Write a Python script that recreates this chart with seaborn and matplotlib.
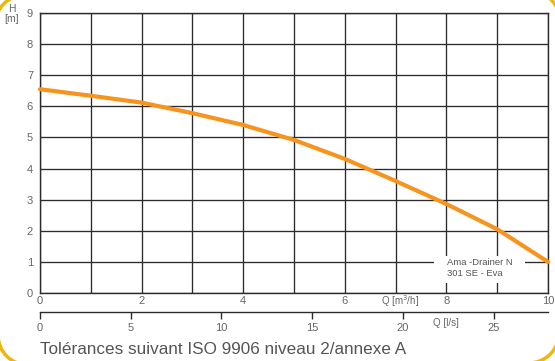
import matplotlib
matplotlib.use("Agg")
import matplotlib.pyplot as plt
from matplotlib.patches import Arc, Rectangle
import pandas as pd
import seaborn as sns

# Pump curve
flow_m3h = [0, 1, 2, 3, 4, 5, 6, 7, 8, 9, 10]
head_m = [6.55, 6.34, 6.12, 5.78, 5.40, 4.92, 4.31, 3.60, 2.86, 2.05, 1.00]

x_ticks = [0, 2, 4, 6, 8, 10]
y_ticks = list(range(0, 10))
ls_ticks = [0, 5, 10, 15, 20, 25]
ls_per_m3h = 2.8

model_label = "Ama -Drainer N\n301 SE - Eva"
footer = "Tolérances suivant ISO 9906 niveau 2/annexe A"

df = pd.DataFrame({"Q": flow_m3h, "H": head_m})

sns.set_style("white")
plt.rcParams["font.family"] = ["Liberation Sans", "DejaVu Sans"]

W, H = 555, 361
fig = plt.figure(figsize=(W / 100, H / 100), dpi=100)
fig.patch.set_facecolor("white")

# axes box in pixels: x 40..548, y 13..293
ax = fig.add_axes([40 / W, (H - 293) / H, 508 / W, 280 / H])
ax.set_xlim(0, 10)
ax.set_ylim(0, 9)

grid_col = "#2b2b2b"
for q in range(0, 11):
    ax.axvline(q, color=grid_col, lw=0.95, zorder=1)
for h in range(0, 10):
    ax.axhline(h, color=grid_col, lw=0.95, zorder=1)

# white label box over the grid
ax.add_patch(Rectangle((7.75, 0.33), 1.8, 0.85, facecolor="white",
                       edgecolor="none", zorder=2))
ax.text(8.02, 0.8, model_label, fontsize=6.8, color="#555555",
        va="center", ha="left", linespacing=1.35, zorder=3)

sns.lineplot(data=df, x="Q", y="H", ax=ax, color="#F7941E", lw=3.0,
             zorder=4, clip_on=False)

for s in ax.spines.values():
    s.set_color(grid_col)
    s.set_linewidth(1.0)

ax.set_xticks(x_ticks)
ax.set_yticks(y_ticks)
ax.tick_params(axis="both", length=0, labelsize=8, labelcolor="#666666")
ax.tick_params(axis="x", pad=2)
ax.tick_params(axis="y", pad=5)
ax.set_xlabel("")
ax.set_ylabel("")

# second flow scale in l/s
sec = ax.secondary_xaxis(-0.068, functions=(lambda q: q * ls_per_m3h,
                                             lambda v: v / ls_per_m3h))
sec.set_xticks(ls_ticks)
sec.spines["bottom"].set_color(grid_col)
sec.spines["bottom"].set_linewidth(1.0)
sec.tick_params(axis="x", direction="out", length=5, width=1.0,
                color=grid_col, labelsize=8, labelcolor="#666666", pad=3)

fig.text(12 / W, 1 - 14 / H, "H\n[m]", fontsize=7.5, color="#666666",
         ha="center", va="center", linespacing=0.95)
fig.text(400 / W, 1 - 301 / H, "Q [m$^3$/h]", fontsize=7, color="#666666",
         ha="center", va="center")
fig.text(446 / W, 1 - 323 / H, "Q [l/s]", fontsize=7, color="#666666",
         ha="center", va="center")
fig.text(40 / W, 1 - 350 / H, footer, fontsize=12.3, color="#555555",
         ha="left", va="center")

# rounded yellow frame corners
frame_col = "#F2B705"
for cx, cy, t1, t2 in [(25, 25, 90, 180), (28, 335, 180, 270),
                       (530, 21, 0, 90), (529, 333, 270, 360)]:
    fig.patches.append(Arc((cx / W, 1 - cy / H), 60 / W, 60 / H,
                           theta1=t1, theta2=t2, color=frame_col, lw=2.5,
                           transform=fig.transFigure, figure=fig))

fig.savefig("out.png", dpi=100)
